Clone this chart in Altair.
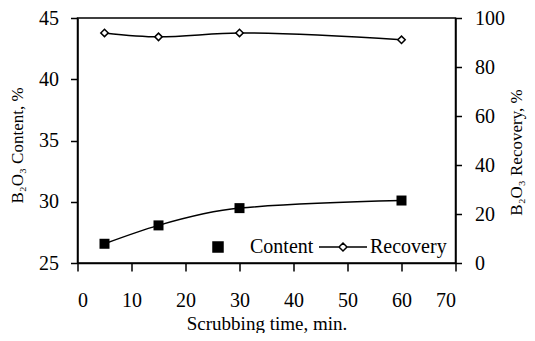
import altair as alt
import pandas as pd

time_min = [5, 15, 30, 60]
content_pct = [26.57, 28.07, 29.48, 30.1]
recovery_pct = [93.9, 92.3, 93.9, 91.1]
x_ticks = [0, 10, 20, 30, 40, 50, 60, 70]
left_ticks = [25, 30, 35, 40, 45]
right_ticks = [0, 20, 40, 60, 80, 100]
series_names = ["Content", "Recovery"]

df = pd.DataFrame({"time": time_min, "content": content_pct, "recovery": recovery_pct})

FONT = "Liberation Serif"
CON_PATH = "M-1,-0.5H0V0.5H-1Z"
REC_PATH = "M-2.4,0H-0.4M0.4,0H2.4M-0.4,0L0,-0.4L0.4,0L0,0.4Z"

common_axis = dict(
    grid=False, domainColor="black", tickColor="black", labelColor="black",
    titleColor="black", domainWidth=1.5, tickWidth=1.5, labelFont=FONT,
    titleFont=FONT, titleFontWeight="normal", labelFontSize=20,
)

x = alt.X(
    "time:Q",
    scale=alt.Scale(domain=[0, 70], nice=False, zero=False),
    axis=alt.Axis(values=x_ticks, title="Scrubbing time, min.", tickSize=8,
                  labelPadding=19, titleY=60, titleBaseline="middle",
                  titleFontSize=19, **common_axis),
)

y_left = alt.Y(
    "content:Q",
    scale=alt.Scale(domain=[25, 45], nice=False, zero=False),
    axis=alt.Axis(values=left_ticks, title="B₂O₃ Content, %", orient="left",
                  tickSize=7, labelPadding=12, titleX=-60.5, titleY=127,
                  titleAngle=270, titleBaseline="middle", titleFontSize=17,
                  **common_axis),
)

y_right = alt.Y(
    "recovery:Q",
    scale=alt.Scale(domain=[0, 100], nice=False, zero=False),
    axis=alt.Axis(values=right_ticks, title="B₂O₃ Recovery, %", orient="right",
                  tickSize=6, labelPadding=13, titleX=61, titleY=134,
                  titleAngle=270, titleBaseline="middle", titleFontSize=17,
                  **common_axis),
)

legend = alt.Legend(
    title=None, orient="none", legendX=134.5, legendY=218, direction="horizontal",
    labelFont=FONT, labelFontSize=20, labelColor="black", labelOffset=16,
    columnPadding=2, padding=0, symbolSize=400, symbolStrokeWidth=1.5,
    symbolStrokeColor="black", symbolOpacity=1,
)

base = alt.Chart(df)

content_line = base.mark_line(color="black", strokeWidth=1.5, interpolate="monotone").encode(x=x, y=y_left)
content_pts = base.mark_point(
    shape="square", filled=True, color="black", size=100, opacity=1).encode(x=x, y=y_left)

legend_layer = base.transform_calculate(series="'Content'").mark_point(
    filled=False, stroke="black", strokeWidth=1.5, opacity=0, size=1
).encode(
    x=x, y=y_left,
    shape=alt.Shape("series:N", scale=alt.Scale(domain=series_names, range=[CON_PATH, REC_PATH]),
                    legend=legend),
    fill=alt.Fill("series:N", scale=alt.Scale(domain=series_names, range=["black", "white"]),
                  legend=legend),
    stroke=alt.Stroke("series:N", scale=alt.Scale(domain=series_names, range=["black", "black"]),
                      legend=legend),
)

rec_line = base.mark_line(color="black", strokeWidth=1.5, interpolate="monotone").encode(x=x, y=y_right)
rec_pts = base.mark_point(
    shape="diamond", filled=True, color="white", stroke="black", strokeWidth=1.5, size=55, opacity=1
).encode(x=x, y=y_right)

left = alt.layer(content_line, content_pts, legend_layer)
right = alt.layer(rec_line, rec_pts)

chart = alt.layer(left, right).resolve_scale(y="independent").properties(
    width=378, height=245,
    autosize=alt.AutoSizeParams(type="none"),
    padding={"left": 69.5, "top": 10, "right": 71, "bottom": 70},
    background="white",
).configure_view(stroke="black", strokeWidth=1.5)

chart.save("out.html", embed_options={"renderer": "svg", "actions": False})
